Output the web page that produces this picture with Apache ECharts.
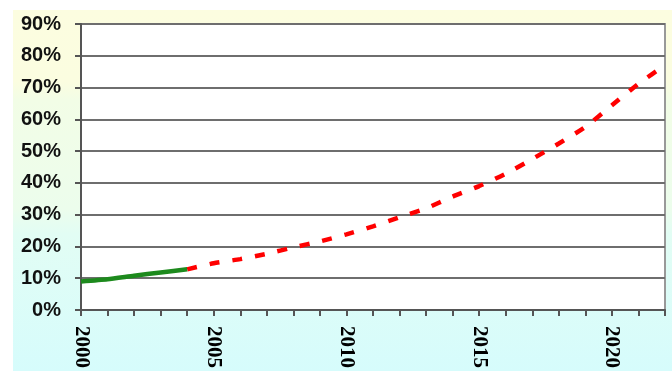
<!DOCTYPE html>
<html>
<head>
<meta charset="utf-8">
<script src="https://cdn.jsdelivr.net/npm/echarts@6/dist/echarts.min.js"></script>
<style>
  html, body { margin: 0; padding: 0; background: #fff; }
  #chart { width: 672px; height: 371px; }
</style>
</head>
<body>
<div id="chart"></div>
<script>
// years on the x axis
var years = [];
for (var y = 2000; y <= 2022; y++) years.push(String(y));

// measured part (green, solid)
var actualValues = [9.0, 9.7, 10.8, 11.8, 12.8, null, null, null, null, null, null, null,
  null, null, null, null, null, null, null, null, null, null, null];

// projected part (red, dashed)
var projectedValues = [null, null, null, null, 12.8, 14.7, 16.0, 17.7, 19.7, 21.6, 23.8, 26.3,
  29.2, 32.0, 35.7, 39.0, 42.9, 47.5, 52.4, 57.6, 64.4, 71.2, 77.0];

var yTicks = [0, 10, 20, 30, 40, 50, 60, 70, 80, 90];

var chart = echarts.init(document.getElementById('chart'));
var option = {
  animation: false,
  backgroundColor: '#fff',
  graphic: [{
    type: 'rect',
    z: -10,
    shape: { x: 13, y: 10, width: 672 - 13, height: 371 - 10 },
    style: {
      fill: {
        type: 'linear', x: 0, y: 0, x2: 0, y2: 1,
        colorStops: [
          { offset: 0, color: '#fcfde0' },
          { offset: 0.2, color: '#fbfde0' },
          { offset: 0.25, color: '#f2fde6' },
          { offset: 0.55, color: '#ecfdec' },
          { offset: 0.62, color: '#e2fdf4' },
          { offset: 1, color: '#d6fcfc' }
        ]
      }
    }
  }],
  grid: {
    left: 81, right: 7, top: 24, bottom: 59,
    show: true,
    backgroundColor: '#fff',
    borderColor: '#999',
    borderWidth: 2
  },
  xAxis: {
    type: 'category',
    data: years,
    boundaryGap: false,
    axisLine: { lineStyle: { color: '#555', width: 2 } },
    axisTick: { show: true, interval: 0, length: 6, lineStyle: { color: '#555', width: 2 } },
    axisLabel: {
      interval: 4,
      rotate: -90,
      margin: 16,
      color: '#000',
      fontFamily: 'Liberation Serif',
      fontWeight: 'bold',
      fontSize: 21
    },
    splitLine: { show: false }
  },
  yAxis: {
    type: 'value',
    min: yTicks[0],
    max: yTicks[yTicks.length - 1],
    interval: 10,
    axisLine: { show: true, lineStyle: { color: '#555', width: 2 } },
    axisTick: { show: true, length: 6, lineStyle: { color: '#555', width: 2 } },
    axisLabel: {
      margin: 20,
      color: '#111',
      fontFamily: 'Liberation Sans',
      fontWeight: 'bold',
      fontSize: 20,
      formatter: '{value}%'
    },
    splitLine: { lineStyle: { color: '#6e6e6e', width: 2 } }
  },
  series: [
    {
      name: 'actual',
      type: 'line',
      data: actualValues,
      showSymbol: false,
      smooth: 0.2,
      lineStyle: { color: '#1d8a1d', width: 4.5 },
      z: 3
    },
    {
      name: 'projection',
      type: 'line',
      data: projectedValues,
      showSymbol: false,
      smooth: 0.2,
      lineStyle: { color: '#ff0000', width: 4.5, type: [10, 13], cap: 'butt' },
      z: 2
    }
  ]
};
chart.setOption(option);
</script>
</body>
</html>
